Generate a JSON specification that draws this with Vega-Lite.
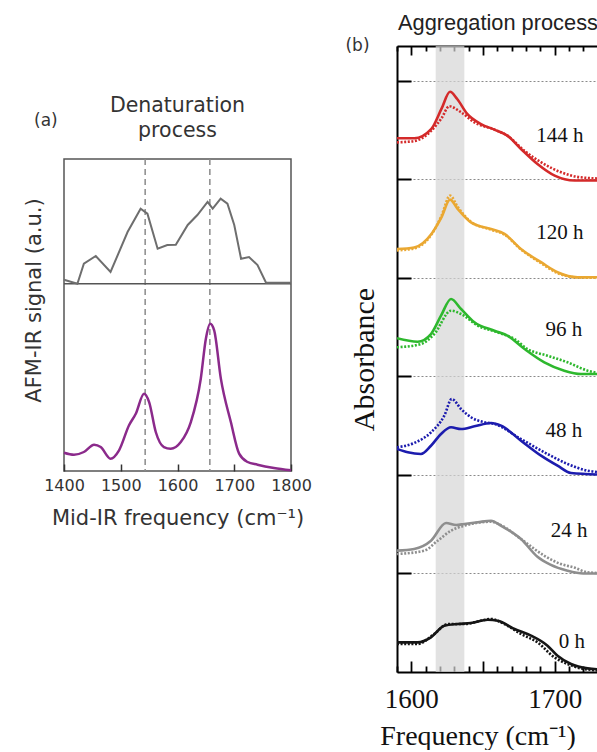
{
  "$schema": "https://vega.github.io/schema/vega-lite/v6.json",
  "background": "white",
  "padding": {"left": 22, "top": 13, "right": 0, "bottom": 0},
  "bounds": "flush",
  "spacing": 333,
  "config": {"view": {"stroke": null}, "axis": {"labelFlush": false, "labelOverlap": false}},
  "resolve": {"scale": {"x": "independent", "y": "independent", "color": "independent"}},
  "datasets": {
    "ftir": [
      {"t":"144 h","k":"s","w":1590,"a":5.418},{"t":"144 h","k":"s","w":1602,"a":5.418},{"t":"144 h","k":"s","w":1614,"a":5.513},{"t":"144 h","k":"s","w":1621,"a":5.716},{"t":"144 h","k":"s","w":1627,"a":5.89},{"t":"144 h","k":"s","w":1632,"a":5.817},{"t":"144 h","k":"s","w":1639,"a":5.665},{"t":"144 h","k":"s","w":1648.6,"a":5.563},{"t":"144 h","k":"s","w":1658,"a":5.506},{"t":"144 h","k":"s","w":1667,"a":5.445},{"t":"144 h","k":"s","w":1676.5,"a":5.31},{"t":"144 h","k":"s","w":1688,"a":5.157},{"t":"144 h","k":"s","w":1700,"a":5.039},{"t":"144 h","k":"s","w":1714,"a":4.99},{"t":"144 h","k":"s","w":1740,"a":4.99},
      {"t":"144 h","k":"d","w":1590,"a":5.377},{"t":"144 h","k":"d","w":1602,"a":5.39},{"t":"144 h","k":"d","w":1614,"a":5.496},{"t":"144 h","k":"d","w":1621,"a":5.62},{"t":"144 h","k":"d","w":1626.5,"a":5.743},{"t":"144 h","k":"d","w":1634.7,"a":5.682},{"t":"144 h","k":"d","w":1644,"a":5.58},{"t":"144 h","k":"d","w":1658,"a":5.506},{"t":"144 h","k":"d","w":1667,"a":5.445},{"t":"144 h","k":"d","w":1679,"a":5.29},{"t":"144 h","k":"d","w":1690.5,"a":5.175},{"t":"144 h","k":"d","w":1704.5,"a":5.073},{"t":"144 h","k":"d","w":1718,"a":5.022},{"t":"144 h","k":"d","w":1740,"a":5.005},
      {"t":"120 h","k":"s","w":1590,"a":4.294},{"t":"120 h","k":"s","w":1602,"a":4.31},{"t":"120 h","k":"s","w":1614,"a":4.447},{"t":"120 h","k":"s","w":1621,"a":4.616},{"t":"120 h","k":"s","w":1627,"a":4.795},{"t":"120 h","k":"s","w":1632.4,"a":4.7},{"t":"120 h","k":"s","w":1641.6,"a":4.565},{"t":"120 h","k":"s","w":1655.6,"a":4.497},{"t":"120 h","k":"s","w":1665,"a":4.447},{"t":"120 h","k":"s","w":1676.5,"a":4.294},{"t":"120 h","k":"s","w":1690.5,"a":4.16},{"t":"120 h","k":"s","w":1702,"a":4.058},{"t":"120 h","k":"s","w":1716,"a":4.007},{"t":"120 h","k":"s","w":1740,"a":4.007},
      {"t":"120 h","k":"d","w":1590,"a":4.28},{"t":"120 h","k":"d","w":1602,"a":4.3},{"t":"120 h","k":"d","w":1614,"a":4.44},{"t":"120 h","k":"d","w":1621,"a":4.63},{"t":"120 h","k":"d","w":1627,"a":4.836},{"t":"120 h","k":"d","w":1632.4,"a":4.72},{"t":"120 h","k":"d","w":1641.6,"a":4.57},{"t":"120 h","k":"d","w":1655.6,"a":4.49},{"t":"120 h","k":"d","w":1665,"a":4.44},{"t":"120 h","k":"d","w":1676.5,"a":4.29},{"t":"120 h","k":"d","w":1690.5,"a":4.15},{"t":"120 h","k":"d","w":1702,"a":4.05},{"t":"120 h","k":"d","w":1716,"a":4.005},{"t":"120 h","k":"d","w":1740,"a":4.0},
      {"t":"96 h","k":"s","w":1590,"a":3.388},{"t":"96 h","k":"s","w":1604.4,"a":3.353},{"t":"96 h","k":"s","w":1613.7,"a":3.431},{"t":"96 h","k":"s","w":1620.7,"a":3.617},{"t":"96 h","k":"s","w":1627.7,"a":3.787},{"t":"96 h","k":"s","w":1634.7,"a":3.685},{"t":"96 h","k":"s","w":1644,"a":3.55},{"t":"96 h","k":"s","w":1658,"a":3.465},{"t":"96 h","k":"s","w":1667,"a":3.414},{"t":"96 h","k":"s","w":1679,"a":3.279},{"t":"96 h","k":"s","w":1692.8,"a":3.144},{"t":"96 h","k":"s","w":1706.7,"a":3.059},{"t":"96 h","k":"s","w":1718.4,"a":3.025},{"t":"96 h","k":"s","w":1740,"a":3.025},
      {"t":"96 h","k":"d","w":1590,"a":3.296},{"t":"96 h","k":"d","w":1606.7,"a":3.33},{"t":"96 h","k":"d","w":1616,"a":3.431},{"t":"96 h","k":"d","w":1627.7,"a":3.668},{"t":"96 h","k":"d","w":1634.7,"a":3.634},{"t":"96 h","k":"d","w":1646.3,"a":3.516},{"t":"96 h","k":"d","w":1660,"a":3.449},{"t":"96 h","k":"d","w":1672,"a":3.38},{"t":"96 h","k":"d","w":1681,"a":3.279},{"t":"96 h","k":"d","w":1695,"a":3.211},{"t":"96 h","k":"d","w":1709,"a":3.144},{"t":"96 h","k":"d","w":1723,"a":3.059},{"t":"96 h","k":"d","w":1740,"a":3.02},
      {"t":"48 h","k":"s","w":1590,"a":2.264},{"t":"48 h","k":"s","w":1597.5,"a":2.23},{"t":"48 h","k":"s","w":1606.7,"a":2.213},{"t":"48 h","k":"s","w":1613.7,"a":2.297},{"t":"48 h","k":"s","w":1620.7,"a":2.416},{"t":"48 h","k":"s","w":1627.7,"a":2.484},{"t":"48 h","k":"s","w":1634.7,"a":2.467},{"t":"48 h","k":"s","w":1644,"a":2.494},{"t":"48 h","k":"s","w":1655.6,"a":2.528},{"t":"48 h","k":"s","w":1662.6,"a":2.501},{"t":"48 h","k":"s","w":1676.5,"a":2.348},{"t":"48 h","k":"s","w":1690.5,"a":2.196},{"t":"48 h","k":"s","w":1702,"a":2.094},{"t":"48 h","k":"s","w":1711.4,"a":2.02},{"t":"48 h","k":"s","w":1740,"a":2.0},
      {"t":"48 h","k":"d","w":1590,"a":2.281},{"t":"48 h","k":"d","w":1602,"a":2.325},{"t":"48 h","k":"d","w":1613.7,"a":2.433},{"t":"48 h","k":"d","w":1623,"a":2.602},{"t":"48 h","k":"d","w":1628.2,"a":2.772},{"t":"48 h","k":"d","w":1634.7,"a":2.67},{"t":"48 h","k":"d","w":1641.6,"a":2.586},{"t":"48 h","k":"d","w":1651,"a":2.535},{"t":"48 h","k":"d","w":1658,"a":2.518},{"t":"48 h","k":"d","w":1676.5,"a":2.365},{"t":"48 h","k":"d","w":1695,"a":2.213},{"t":"48 h","k":"d","w":1709,"a":2.112},{"t":"48 h","k":"d","w":1723,"a":2.044},{"t":"48 h","k":"d","w":1740,"a":2.02},
      {"t":"24 h","k":"s","w":1590,"a":1.232},{"t":"24 h","k":"s","w":1602,"a":1.249},{"t":"24 h","k":"s","w":1613.7,"a":1.333},{"t":"24 h","k":"s","w":1624.2,"a":1.513},{"t":"24 h","k":"s","w":1631.2,"a":1.492},{"t":"24 h","k":"s","w":1637,"a":1.503},{"t":"24 h","k":"s","w":1646.3,"a":1.52},{"t":"24 h","k":"s","w":1655.6,"a":1.536},{"t":"24 h","k":"s","w":1662.6,"a":1.485},{"t":"24 h","k":"s","w":1676.5,"a":1.35},{"t":"24 h","k":"s","w":1688,"a":1.17},{"t":"24 h","k":"s","w":1697,"a":1.09},{"t":"24 h","k":"s","w":1709,"a":1.028},{"t":"24 h","k":"s","w":1720,"a":1.0},{"t":"24 h","k":"s","w":1740,"a":1.0},
      {"t":"24 h","k":"d","w":1590,"a":1.198},{"t":"24 h","k":"d","w":1609,"a":1.232},{"t":"24 h","k":"d","w":1618.4,"a":1.333},{"t":"24 h","k":"d","w":1627.7,"a":1.435},{"t":"24 h","k":"d","w":1637,"a":1.485},{"t":"24 h","k":"d","w":1655.6,"a":1.526},{"t":"24 h","k":"d","w":1662.6,"a":1.49},{"t":"24 h","k":"d","w":1676.5,"a":1.35},{"t":"24 h","k":"d","w":1692.8,"a":1.18},{"t":"24 h","k":"d","w":1704.4,"a":1.096},{"t":"24 h","k":"d","w":1713.7,"a":1.06},{"t":"24 h","k":"d","w":1723,"a":1.012},{"t":"24 h","k":"d","w":1740,"a":1.0},
      {"t":"0 h","k":"s","w":1590,"a":0.301},{"t":"0 h","k":"s","w":1604.4,"a":0.301},{"t":"0 h","k":"s","w":1613.7,"a":0.352},{"t":"0 h","k":"s","w":1623,"a":0.47},{"t":"0 h","k":"s","w":1632.4,"a":0.487},{"t":"0 h","k":"s","w":1641.6,"a":0.497},{"t":"0 h","k":"s","w":1653.3,"a":0.531},{"t":"0 h","k":"s","w":1660.3,"a":0.521},{"t":"0 h","k":"s","w":1672,"a":0.437},{"t":"0 h","k":"s","w":1683.5,"a":0.369},{"t":"0 h","k":"s","w":1695,"a":0.267},{"t":"0 h","k":"s","w":1702,"a":0.165},{"t":"0 h","k":"s","w":1711.4,"a":0.081},{"t":"0 h","k":"s","w":1723,"a":0.037},{"t":"0 h","k":"s","w":1740,"a":0.02},
      {"t":"0 h","k":"d","w":1590,"a":0.284},{"t":"0 h","k":"d","w":1604.4,"a":0.284},{"t":"0 h","k":"d","w":1616,"a":0.386},{"t":"0 h","k":"d","w":1625.4,"a":0.487},{"t":"0 h","k":"d","w":1637,"a":0.487},{"t":"0 h","k":"d","w":1648.6,"a":0.521},{"t":"0 h","k":"d","w":1655.6,"a":0.538},{"t":"0 h","k":"d","w":1664.9,"a":0.487},{"t":"0 h","k":"d","w":1676.5,"a":0.386},{"t":"0 h","k":"d","w":1688,"a":0.301},{"t":"0 h","k":"d","w":1699.8,"a":0.149},{"t":"0 h","k":"d","w":1709,"a":0.081},{"t":"0 h","k":"d","w":1720.7,"a":0.03},{"t":"0 h","k":"d","w":1740,"a":0.01}
    ]
  },
  "hconcat": [
    {
      "vconcat": [
        {
          "width": 227,
          "height": 113,
          "view": {"stroke": null},
          "title": {"text": "(a)", "font": "DejaVu Sans", "fontSize": 17, "fontWeight": "normal", "color": "#333", "anchor": "start", "frame": "group", "offset": 0, "dx": -30, "dy": 84},
          "data": {"values": [{"n": 0}]},
          "mark": {"type": "point", "opacity": 0}
        },
        {
          "width": 227,
          "height": 312,
          "view": {"stroke": "#555", "strokeWidth": 1.5},
          "title": {"text": ["Denaturation", "process"], "font": "DejaVu Sans", "fontSize": 20.5, "fontWeight": "normal", "color": "#333", "anchor": "middle", "offset": 17, "lineHeight": 25},
          "resolve": {"axis": {"x": "independent", "y": "independent"}},
          "layer": [
            {
              "data": {"values": [{"w": 1543}, {"w": 1657}]},
              "mark": {"type": "rule", "color": "#8a8a8a", "strokeWidth": 1.5, "strokeDash": [6, 4]},
              "encoding": {"x": {"field": "w", "type": "quantitative", "axis": null}}
            },
            {
              "data": {"values": [{"s": 6}]},
              "mark": {"type": "rule", "color": "#555", "strokeWidth": 1.5},
              "encoding": {"y": {"field": "s", "type": "quantitative", "axis": null}}
            },
            {
              "data": {"values": [
                {"w":1400,"s":6.131},{"w":1423.6,"s":6.003},{"w":1435,"s":6.644},{"w":1456,"s":6.891},{"w":1482,"s":6.378},{"w":1512,"s":7.66},{"w":1535,"s":8.407},{"w":1547,"s":8.247},{"w":1565,"s":7.125},{"w":1582,"s":7.244},{"w":1597,"s":7.253},{"w":1618,"s":7.885},{"w":1635,"s":8.205},{"w":1653,"s":8.622},{"w":1662,"s":8.407},{"w":1676,"s":8.728},{"w":1688,"s":8.567},{"w":1700,"s":7.885},{"w":1712,"s":6.804},{"w":1726,"s":6.859},{"w":1741,"s":6.603},{"w":1756,"s":6.035},{"w":1800,"s":6.035}
              ]},
              "mark": {"type": "line", "color": "#6e6e6e", "strokeWidth": 2},
              "encoding": {
                "x": {"field": "w", "type": "quantitative", "scale": {"domain": [1400, 1800], "nice": false, "zero": false},
                  "axis": {"values": [1400, 1500, 1600, 1700, 1800], "format": "d", "tickSize": -7, "tickColor": "#333", "tickWidth": 1.5, "domain": false, "grid": false, "labelFont": "DejaVu Sans", "labelFontSize": 16, "labelColor": "#333", "labelPadding": 13, "title": "Mid-IR frequency (cm⁻¹)", "titleFont": "DejaVu Sans", "titleFontSize": 21, "titleFontWeight": "normal", "titleColor": "#333", "titlePadding": 14}},
                "y": {"field": "s", "type": "quantitative", "scale": {"domain": [0, 10], "nice": false, "zero": false},
                  "axis": {"title": "AFM-IR signal (a.u.)", "ticks": false, "labels": false, "domain": false, "grid": false, "titleFont": "DejaVu Sans", "titleFontSize": 21, "titleFontWeight": "normal", "titleColor": "#333", "titlePadding": 20, "titleY": 141}}
              }
            },
            {
              "data": {"values": [
                {"w":1400,"s":0.587},{"w":1417.6,"s":0.522},{"w":1435,"s":0.609},{"w":1453,"s":0.843},{"w":1464.7,"s":0.769},{"w":1482,"s":0.394},{"w":1497,"s":0.663},{"w":1514.6,"s":1.465},{"w":1526.5,"s":1.837},{"w":1541,"s":2.478},{"w":1550,"s":2.21},{"w":1561.7,"s":1.25},{"w":1576,"s":0.769},{"w":1588,"s":0.715},{"w":1605.8,"s":0.929},{"w":1623.5,"s":1.57},{"w":1641,"s":2.958},{"w":1650,"s":4.24},{"w":1657.5,"s":4.72},{"w":1664.6,"s":4.51},{"w":1676.4,"s":2.96},{"w":1694,"s":1.57},{"w":1708.6,"s":0.555},{"w":1723.5,"s":0.288},{"w":1741,"s":0.202},{"w":1770,"s":0.096},{"w":1800,"s":0.022}
              ]},
              "mark": {"type": "line", "color": "#8b2a8b", "strokeWidth": 2.5, "interpolate": "monotone"},
              "encoding": {
                "x": {"field": "w", "type": "quantitative", "axis": null},
                "y": {"field": "s", "type": "quantitative", "axis": null}
              }
            }
          ]
        }
      ],
      "spacing": 0,
      "bounds": "flush"
    },
    {
      "width": 215,
      "height": 626,
      "title": {"text": "Aggregation process", "font": "Liberation Sans", "fontSize": 21.8, "fontWeight": "normal", "color": "#222", "anchor": "start", "frame": "group", "dx": 1, "offset": 1},
      "resolve": {"axis": {"x": "independent", "y": "independent"}},
      "layer": [
        {
          "data": {"values": [{"lo": 1617, "hi": 1637}]},
          "mark": {"type": "rect", "color": "#d6d6d6", "opacity": 0.7},
          "encoding": {
            "x": {"field": "lo", "type": "quantitative", "scale": {"domain": [1590, 1740], "nice": false, "zero": false},
              "axis": {"orient": "bottom", "values": [1590,1600,1610,1620,1630,1640,1650,1660,1670,1680,1690,1700,1710,1720,1730,1740], "tickSize": {"condition": {"test": "datum.value % 50 === 0", "value": -11}, "value": -6}, "tickColor": "#000", "tickWidth": 1.8, "labels": false, "title": null, "domain": true, "domainColor": "#000", "domainWidth": 2, "grid": false}},
            "x2": {"field": "hi"}
          }
        },
        {
          "data": {"name": "ftir"},
          "transform": [{"filter": "datum.k === 's'"}],
          "mark": {"type": "line", "strokeWidth": 2.6, "clip": true, "interpolate": "monotone"},
          "encoding": {
            "x": {"field": "w", "type": "quantitative",
              "axis": {"orient": "bottom", "values": [1600, 1650, 1700], "format": "d", "labelExpr": "datum.value === 1650 ? '' : datum.label", "ticks": false, "domain": false, "grid": false, "labelFont": "Liberation Serif", "labelFontSize": 27, "labelColor": "#111", "labelPadding": 14, "title": "Frequency (cm⁻¹)", "titleFont": "Liberation Serif", "titleFontSize": 28, "titleFontWeight": "normal", "titleColor": "#111", "titlePadding": 10, "titleX": 80.5, "titleAlign": "center"}},
            "y": {"field": "a", "type": "quantitative", "scale": {"domain": [0, 6.355], "nice": false, "zero": false},
              "axis": {"values": [1, 2, 3, 4, 5, 6], "tickSize": -14, "tickColor": "#000", "tickWidth": 2, "labels": false, "domain": true, "domainColor": "#000", "domainWidth": 2, "grid": true, "gridDash": [2, 2], "gridColor": "#8a8a8a", "gridWidth": 1, "title": "Absorbance", "titleFont": "Liberation Serif", "titleFontSize": 30, "titleFontWeight": "normal", "titleColor": "#111", "titlePadding": 17}},
            "color": {"field": "t", "type": "nominal", "scale": {"domain": ["144 h", "120 h", "96 h", "48 h", "24 h", "0 h"], "range": ["#d42a2a", "#eaa832", "#2eb82e", "#1c1cae", "#8e8e8e", "#151515"]}, "legend": null}
          }
        },
        {
          "data": {"name": "ftir"},
          "transform": [{"filter": "datum.k === 'd'"}],
          "mark": {"type": "line", "strokeWidth": 2.6, "strokeDash": [2, 1.6], "clip": true, "interpolate": "monotone"},
          "encoding": {
            "x": {"field": "w", "type": "quantitative",
              "axis": {"orient": "top", "values": [1590,1600,1610,1620,1630,1640,1650,1660,1670,1680,1690,1700,1710,1720,1730,1740], "tickSize": {"condition": {"test": "datum.value % 50 === 0", "value": -9}, "value": -5}, "tickColor": "#000", "tickWidth": 1.8, "labels": false, "domain": true, "domainColor": "#000", "domainWidth": 2, "grid": false, "title": "(b)", "titleFont": "DejaVu Sans", "titleFontSize": 17, "titleFontWeight": "normal", "titleColor": "#333", "titleX": -40, "titleY": -1, "titleAlign": "center", "titleBaseline": "middle", "titleAngle": 0}},
            "y": {"field": "a", "type": "quantitative", "axis": null},
            "color": {"field": "t", "type": "nominal", "legend": null}
          }
        },
        {
          "data": {"values": [
            {"label": "144 h", "w": 1703.7, "a": 5.445},
            {"label": "120 h", "w": 1703.7, "a": 4.457},
            {"label": "96 h", "w": 1706.5, "a": 3.472},
            {"label": "48 h", "w": 1706.5, "a": 2.442},
            {"label": "24 h", "w": 1710, "a": 1.431},
            {"label": "0 h", "w": 1712, "a": 0.301}
          ]},
          "mark": {"type": "text", "font": "Liberation Serif", "fontSize": 21, "color": "#111", "align": "center", "baseline": "middle"},
          "encoding": {
            "x": {"field": "w", "type": "quantitative", "axis": null},
            "y": {"field": "a", "type": "quantitative", "axis": null},
            "text": {"field": "label"}
          }
        }
      ]
    }
  ]
}
